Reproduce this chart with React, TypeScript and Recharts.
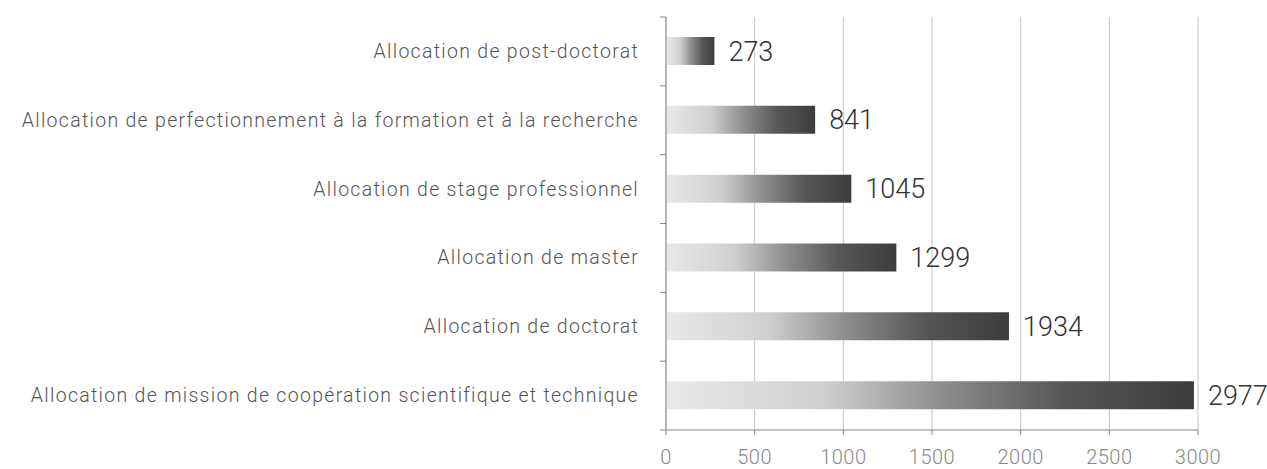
import { BarChart, Bar, XAxis, YAxis, CartesianGrid, LabelList } from 'recharts';

const categories = [
  'Allocation de post-doctorat',
  'Allocation de perfectionnement à la formation et à la recherche',
  'Allocation de stage professionnel',
  'Allocation de master',
  'Allocation de doctorat',
  'Allocation de mission de coopération scientifique et technique',
];
const counts = [273, 841, 1045, 1299, 1934, 2977];
const xTicks = [0, 500, 1000, 1500, 2000, 2500, 3000];

const data = categories.map((name, i) => ({ name, count: counts[i] }));

const W = 1267;
const H = 469;
const X_AXIS_H = 30;
const M = { top: 17, right: 69, bottom: 9, left: 0 };
const halfBand = (H - M.top - M.bottom - X_AXIS_H) / categories.length / 2;

const CategoryTick = (props: any) => {
  const { x, y, payload, index } = props;
  return (
    <g>
      <line x1={x - 6} x2={x} y1={y - halfBand} y2={y - halfBand} stroke="#888" />
      {index === categories.length - 1 && (
        <line x1={x - 6} x2={x} y1={y + halfBand} y2={y + halfBand} stroke="#888" />
      )}
      <text
        x={x - 27}
        y={y}
        textAnchor="end"
        dominantBaseline="central"
        fill="#555"
        fontSize={19.5}
        letterSpacing={1.3}
        fontWeight={300}
        fontFamily="Roboto, sans-serif"
      >
        {payload.value}
      </text>
    </g>
  );
};

const App = () => (
  <div style={{ position: 'fixed', top: 0, left: 0, background: '#fff' }}>
    <BarChart width={W} height={H} data={data} layout="vertical" margin={M}>
      <defs>
        <linearGradient id="barGrad" x1="0" y1="0" x2="1" y2="0">
          <stop offset="0%" stopColor="#e9e9e9" />
          <stop offset="30%" stopColor="#cfcfcf" />
          <stop offset="52%" stopColor="#8e8e8e" />
          <stop offset="75%" stopColor="#575757" />
          <stop offset="100%" stopColor="#3c3c3c" />
        </linearGradient>
      </defs>
      <CartesianGrid horizontal={false} stroke="#c4c4c4" />
      <XAxis
        type="number"
        domain={[0, 3000]}
        ticks={xTicks}
        height={X_AXIS_H}
        stroke="#888"
        tickSize={5}
        tickMargin={15}
        tick={{ fontSize: 20, fill: '#888', fontWeight: 300, fontFamily: 'Roboto, sans-serif', letterSpacing: 0.5 }}
      />
      <YAxis
        type="category"
        dataKey="name"
        width={666}
        stroke="#888"
        tickLine={false}
        tickSize={0}
        tickMargin={0}
        interval={0}
        tick={<CategoryTick />}
      />
      <Bar dataKey="count" fill="url(#barGrad)" barSize={28} isAnimationActive={false}>
        <LabelList
          dataKey="count"
          position="right"
          offset={14}
          fill="#333"
          fontSize={27}
          fontWeight={300}
          fontFamily="Roboto, sans-serif"
        />
      </Bar>
    </BarChart>
  </div>
);

export default App;
